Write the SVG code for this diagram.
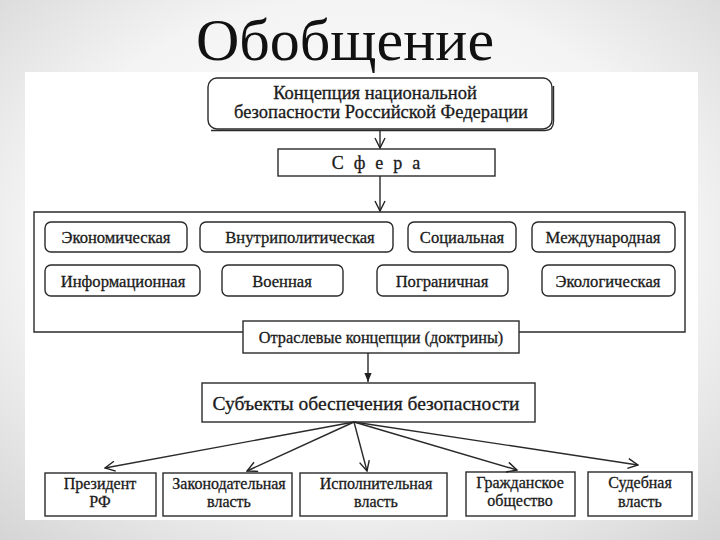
<svg xmlns="http://www.w3.org/2000/svg" width="720" height="540" viewBox="0 0 720 540">
<defs>
<radialGradient id="bg" cx="50%" cy="45%" r="75%">
<stop offset="0" stop-color="#ffffff"/>
<stop offset="0.6" stop-color="#f4f4f4"/>
<stop offset="1" stop-color="#d4d4d4"/>
</radialGradient>
<marker id="open" viewBox="0 0 12 12" refX="11" refY="6" markerWidth="12" markerHeight="12" markerUnits="userSpaceOnUse" orient="auto">
<path d="M1,1 L11,6 L1,11" fill="none" stroke="#222" stroke-width="1.4"/>
</marker>
<marker id="solid" viewBox="0 0 10 10" refX="10" refY="5" markerWidth="9" markerHeight="9" markerUnits="userSpaceOnUse" orient="auto">
<path d="M0,1 L10,5 L0,9 Z" fill="#222"/>
</marker>
</defs>
<style>
.box{fill:#fff;stroke:#2a2a2a;stroke-width:1.4}
.t{font-family:"Liberation Serif","Times New Roman",serif;fill:#1a1a1a;text-anchor:middle;stroke:#1a1a1a;stroke-width:0.3}
.s{font-size:16.6px}
.b{font-size:16px}
.ln{fill:none;stroke:#2a2a2a;stroke-width:1.4}
</style>
<rect x="0" y="0" width="720" height="540" fill="url(#bg)"/>
<rect x="25" y="72" width="673" height="448" fill="#ffffff"/>
<text x="345" y="60" style="font-family:'Liberation Serif','Times New Roman',serif;font-size:60px;fill:#111;text-anchor:middle">Обобщение</text>

<g id="concept">
<rect x="208" y="78" width="344" height="51" rx="9" class="box"/>
<path d="M211,130.5 H545 Q553.5,130.5 553.5,121 V86" class="ln" stroke-width="2.2"/>
<text x="375" y="99" class="t" style="font-size:18.5px">Концепция национальной</text>
<text x="381" y="118" class="t" style="font-size:18.5px">безопасности Российской Федерации</text>
</g>
<g id="sfera">
<rect x="278" y="149" width="217" height="27" class="box"/>
<text x="381" y="169" class="t" style="font-size:18px;letter-spacing:10px">Сфера</text>
</g>
<g id="container">
<path d="M243,332 H34 V212 H685 V332 H519" class="ln"/>
</g>
<g id="ekon"><rect x="45" y="222" width="142" height="30" rx="6" class="box"/><text x="116" y="243" class="t s">Экономическая</text></g>
<g id="vnutr"><rect x="200" y="222" width="193" height="30" rx="6" class="box"/><text x="300" y="243" class="t s">Внутриполитическая</text></g>
<g id="soc"><rect x="408" y="222" width="108" height="30" rx="6" class="box"/><text x="462" y="243" class="t s">Социальная</text></g>
<g id="mezh"><rect x="532" y="222" width="143" height="30" rx="6" class="box"/><text x="603" y="243" class="t s">Международная</text></g>
<g id="inform"><rect x="45" y="265" width="155" height="31" rx="6" class="box"/><text x="123" y="287" class="t s">Информационная</text></g>
<g id="voen"><rect x="222" y="265" width="121" height="31" rx="6" class="box"/><text x="282" y="287" class="t s">Военная</text></g>
<g id="pogr"><rect x="377" y="265" width="131" height="31" rx="6" class="box"/><text x="442" y="287" class="t s">Пограничная</text></g>
<g id="ekol"><rect x="542" y="265" width="133" height="31" rx="6" class="box"/><text x="608" y="287" class="t s">Экологическая</text></g>
<g id="otrasl"><rect x="243" y="321" width="276" height="32" class="box"/><text x="381" y="343" class="t" style="font-size:16.3px">Отраслевые концепции (доктрины)</text></g>
<g id="subj"><rect x="202" y="383" width="333" height="39" class="box"/><text x="366" y="410" class="t" style="font-size:19.5px">Субъекты обеспечения безопасности</text></g>
<g id="prez"><rect x="45" y="473" width="111" height="43" class="box"/><text x="100" y="488.5" class="t b">Президент</text><text x="100" y="507" class="t b">РФ</text></g>
<g id="zakon"><rect x="163" y="473" width="129" height="43" class="box"/><text x="229" y="488.5" class="t b">Законодательная</text><text x="229" y="507" class="t b">власть</text></g>
<g id="ispoln"><rect x="300" y="473" width="147" height="43" class="box"/><text x="376" y="488.5" class="t b">Исполнительная</text><text x="376" y="507" class="t b">власть</text></g>
<g id="grazhd"><rect x="466" y="472" width="109" height="44" class="box"/><text x="520" y="487.5" class="t b">Гражданское</text><text x="520" y="506" class="t b">общество</text></g>
<g id="sud"><rect x="588" y="472" width="104" height="44" class="box"/><text x="640" y="488" class="t b">Судебная</text><text x="640" y="506.5" class="t b">власть</text></g>

<g id="connectors">
<line x1="380" y1="130" x2="380" y2="148" class="ln" marker-end="url(#open)"/>
<line x1="380" y1="176" x2="380" y2="211" class="ln" marker-end="url(#open)"/>
<line x1="368" y1="353" x2="368" y2="382" class="ln" marker-end="url(#solid)"/>
<line x1="354" y1="422" x2="105" y2="468" class="ln" marker-end="url(#open)"/>
<line x1="354" y1="422" x2="247" y2="471" class="ln" marker-end="url(#open)"/>
<line x1="354" y1="422" x2="367" y2="471" class="ln" marker-end="url(#open)"/>
<line x1="354" y1="422" x2="517" y2="470" class="ln" marker-end="url(#open)"/>
<line x1="354" y1="422" x2="638" y2="465" class="ln" marker-end="url(#open)"/>
</g>
</svg>
